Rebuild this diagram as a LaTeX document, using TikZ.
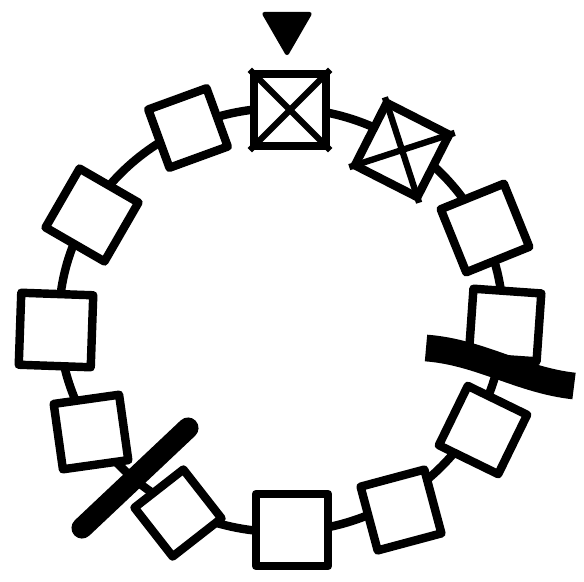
\documentclass[tikz,border=0pt]{standalone}
\usepackage{tikz}
\usetikzlibrary{shapes.geometric}

\begin{document}
\begin{tikzpicture}[
    x=0.025cm, y=-0.025cm,
    ring/.style={line width=6pt},
    slot/.style={rectangle, draw, fill=white, line width=6pt, line join=round, minimum size=#1, inner sep=0pt},
    slot/.default=1.8cm,
    takenmark/.style={line width=4.5pt, line cap=butt},
    pointer/.style={regular polygon, regular polygon sides=3, rotate=180, fill=black, draw, line width=3pt, line join=round, minimum size=1.3cm, inner sep=0pt},
    bar/.style={line width=15pt, line cap=round}
]
\useasboundingbox (0,0) rectangle (584,581);

% ring
\coordinate (c) at (281,320);
\draw[ring] (c) ellipse [x radius=222, y radius=212];

% slots around the ring
\node[slot=1.8cm, rotate=0] (q1) at (290,110) {};
\node[slot=1.75cm, rotate=-27] (q2) at (402,150) {};
\node[slot=1.7cm, rotate=22] (q3) at (485,228) {};
\node[slot=1.7cm, rotate=-4] (q4) at (505,325) {};
\node[slot=1.65cm, rotate=-26] (q5) at (483,430) {};
\node[slot=1.65cm, rotate=15] (q6) at (401,510) {};
\node[slot=1.8cm, rotate=0] (q7) at (292,530) {};
\node[slot=1.55cm, rotate=38] (q8) at (178,513) {};
\node[slot=1.65cm, rotate=8] (q9) at (91,432) {};
\node[slot=1.8cm, rotate=-2] (q10) at (56,330) {};
\node[slot=1.7cm, rotate=-30] (q11) at (92,215) {};
\node[slot=1.55cm, rotate=20] (q12) at (188,128) {};

% taken slots
\draw[takenmark] (q1.north west) -- (q1.south east);
\draw[takenmark] (q1.north east) -- (q1.south west);
\draw[takenmark] (q2.north west) -- (q2.south east);
\draw[takenmark] (q2.north east) -- (q2.south west);

% pointer
\node[pointer] (p) at (287,27) {};

% cuts
\coordinate (r1) at (426,348);
\coordinate (r2) at (574,386);
\draw[bar, line cap=butt, line width=19pt] (r1) .. controls (480,352) and (520,380) .. (r2);
\coordinate (l1) at (82,528);
\coordinate (l2) at (188,428);
\draw[bar] (l1) -- (l2);
\end{tikzpicture}
\end{document}
